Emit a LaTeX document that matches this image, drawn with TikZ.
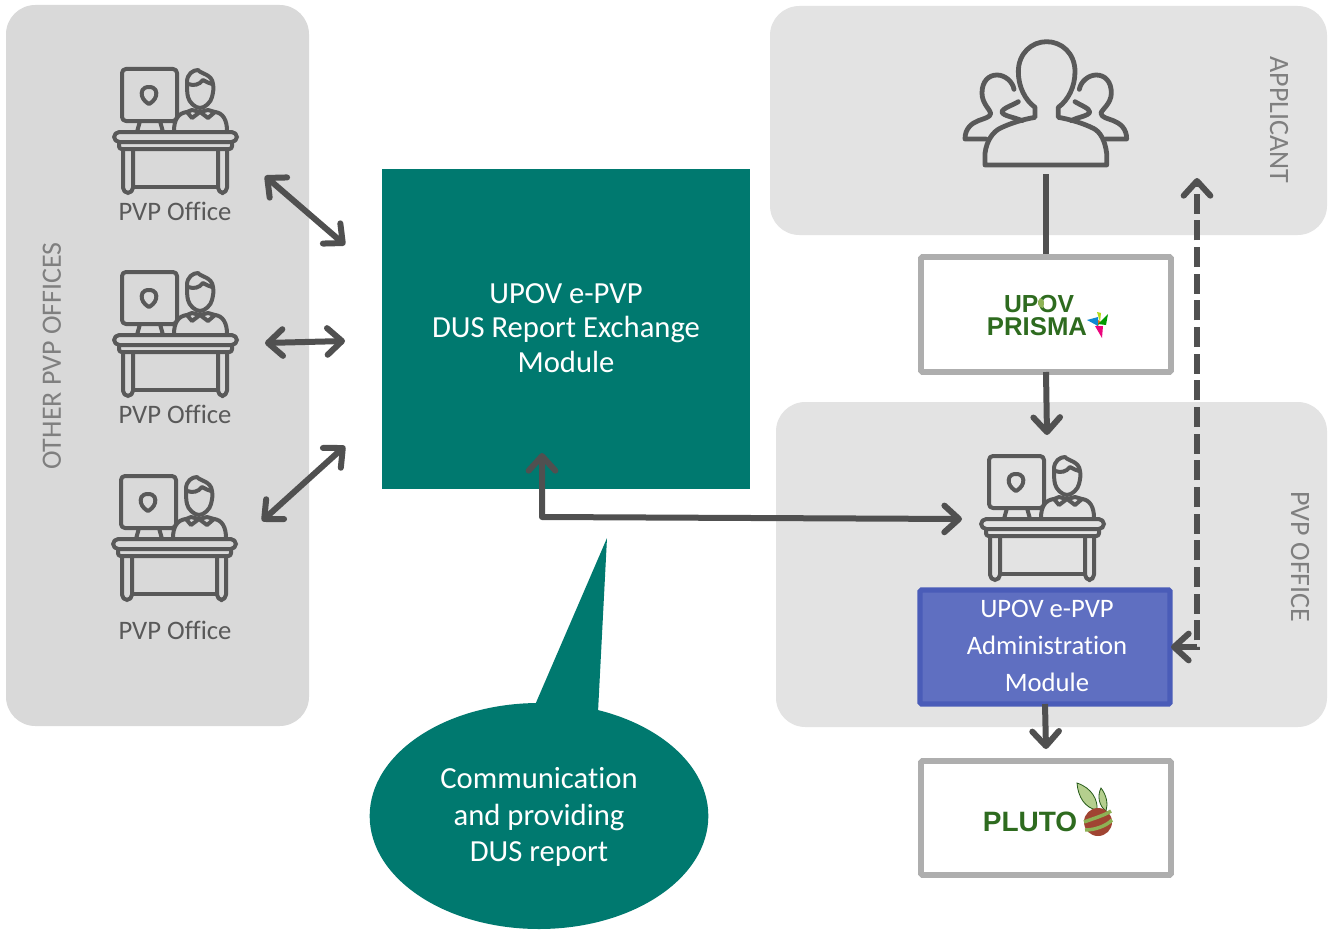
\documentclass[tikz,border=0pt]{standalone}
\usepackage{fontspec}
\setmainfont[Ligatures=NoCommon]{Carlito}
\newfontfamily\logofont{Liberation Sans}
\usetikzlibrary{arrows.meta,shapes.geometric,calc}
\definecolor{iconc}{HTML}{595959}
\definecolor{arrowc}{HTML}{505050}
\definecolor{panelA}{HTML}{D9D9D9}
\definecolor{panelB}{HTML}{E3E3E3}
\definecolor{teal}{HTML}{00796F}
\definecolor{framec}{HTML}{AEAEAE}
\definecolor{adminf}{HTML}{5F6FC1}
\definecolor{admind}{HTML}{4A5CB8}
\definecolor{logog}{HTML}{2E6B1F}
\definecolor{labelc}{HTML}{7F7F7F}
\definecolor{fruitc}{HTML}{A04432}
\definecolor{bandc}{HTML}{8DB255}
\definecolor{leafc}{HTML}{B5CF8E}
\newcommand\rectnode[7][]{%
  \pgfmathsetmacro\rw{(#5-#3)*0.75}\pgfmathsetmacro\rh{(#6-#4)*0.75}%
  \node[#2,minimum width=\rw pt,minimum height=\rh pt,#1] (#7) at ({(#3+#5)/2},{(#4+#6)/2})}
\tikzset{
  panel/.style={rounded corners=22pt,inner sep=0pt,outer sep=0pt},
  framebox/.style={draw=framec,line width=4.3pt,fill=white,rounded corners=1pt,inner sep=0pt,outer sep=0pt},
  adminbox/.style={draw=admind,line width=3.8pt,fill=adminf,rounded corners=1pt,inner sep=0pt,outer sep=0pt,text=white,align=center},
  tealbox/.style={fill=teal,inner sep=0pt,outer sep=0pt,text=white,align=center},
  conn/.style={draw=arrowc,line width=4.5pt},
  tip/.style={-{Straight Barb[length=11pt,width=20pt,line width=4.5pt,round]}},
  tips/.style={{Straight Barb[length=11pt,width=20pt,line width=4.5pt,round]}-{Straight Barb[length=11pt,width=20pt,line width=4.5pt,round]}},
  iconl/.style={draw=iconc,line width=3pt,line join=round,line cap=round},
  office/.pic={
    \draw[iconl,rounded corners=3pt] (32,19) rectangle (87,71);
    \draw[iconl] (59,37) .. controls (52,37) and (51,42) .. (52,46) .. controls (53,50) and (57,53) .. (59,54)
       .. controls (61,53) and (65,50) .. (66,46) .. controls (67,42) and (66,37) .. (59,37) -- cycle;
    \draw[iconl] (50,71) -- (47,82) (70,71) -- (73,82);
    \draw[iconl,rounded corners=4pt] (24,82) rectangle (147,92);
    \draw[iconl,rounded corners=2pt] (29,92) -- (29,99) -- (142,99) -- (142,92);
    \draw[iconl,rounded corners=4pt] (33,99) -- (33,143) -- (43,143) -- (43,99);
    \draw[iconl,rounded corners=4pt] (128,99) -- (128,143) -- (137,143) -- (137,99);
    \draw[iconl] (43,137) -- (128,137);
    % person
    \draw[iconl] (97,32) .. controls (97,24) and (103,20) .. (108,20) .. controls (111,24) and (122,24) .. (123,34)
       .. controls (124,38) and (123,43) .. (122,47) .. controls (121,52) and (115,58) .. (110,58)
       .. controls (105,58) and (99,52) .. (98,47) .. controls (97,43) and (97,38) .. (97,32) -- cycle;
    \draw[iconl] (98,34) .. controls (104,36) and (109,35) .. (113,30) .. controls (116,32) and (119,33) .. (122,34);
    \draw[iconl] (84,81) .. controls (84,70) and (88,63) .. (97,62) (125,62) .. controls (133,63) and (137,70) .. (137,81);
    \draw[iconl] (97,62) -- (102,60) -- (110,62) -- (118,60) -- (125,62);
    \draw[iconl] (97,62) -- (102,68) -- (110,62) -- (118,68) -- (125,62);
  }
}
\begin{document}
\begin{tikzpicture}[x=0.75pt,y=-0.75pt]
\useasboundingbox (0,0) rectangle (1331,931);
\fill[white] (0,0) rectangle (1331,931);
% panels
\rectnode{panel,fill=panelA}{6}{5}{309}{726}{others} {};
\rectnode{panel,fill=panelB}{770}{6}{1327}{235}{applicant} {};
\rectnode{panel,fill=panelB}{776}{402}{1327}{727}{pvpoffice} {};
\node[rotate=90,text=labelc,font=\fontsize{21}{24}\selectfont] (lblothers) at (52,356) {OTHER PVP OFFICES};
\node[rotate=-90,text=labelc,font=\fontsize{21}{24}\selectfont] (lblapp) at (1279,120) {APPLICANT};
\node[rotate=-90,text=labelc,font=\fontsize{21}{24}\selectfont] (lblpvp) at (1300,557) {PVP OFFICE};
% office icons
\pic at (90,50) {office};
\pic at (90,253) {office};
\pic at (89,457) {office};
\pic at (957,437) {office};
\tikzset{oflabel/.style={text=iconc,font=\fontsize{20}{24}\selectfont}}
\node[oflabel] (of1) at (175,211) {PVP Office};
\node[oflabel] (of2) at (175,414) {PVP Office};
\node[oflabel] (of3) at (175,630) {PVP Office};
% applicant icon
\begin{scope}[shift={(950,30)},x=0.25pt,y=-0.25pt]
  \draw[iconl,line width=3.6pt] (105,405) -- (470,405) -- (470,370) .. controls (465,330) and (450,305) .. (430,295)
     .. controls (400,280) and (360,268) .. (325,262) -- (325,232)
     .. controls (355,210) and (375,170) .. (375,125) .. controls (375,70) and (335,35) .. (290,35)
     .. controls (245,35) and (205,70) .. (205,125) .. controls (205,170) and (225,210) .. (255,232) -- (255,262)
     .. controls (220,268) and (180,280) .. (150,295) .. controls (130,305) and (110,330) .. (105,370) -- cycle;
  % left figure
  \draw[iconl,line width=3.6pt] (108,327) -- (45,327) .. controls (45,295) and (65,280) .. (85,272)
     .. controls (100,266) and (122,262) .. (122,250) .. controls (122,240) and (96,222) .. (96,189)
     .. controls (96,155) and (115,135) .. (141,135) .. controls (165,135) and (188,155) .. (192,178);
  \draw[iconl,line width=3.6pt] (205,215) .. controls (190,225) and (156,235) .. (156,246) .. controls (158,258) and (195,262) .. (216,272);
  % right figure
  \draw[iconl,line width=3.6pt] (467,327) -- (530,327) .. controls (530,295) and (510,280) .. (490,272)
     .. controls (475,266) and (453,262) .. (453,250) .. controls (453,240) and (484,222) .. (484,189)
     .. controls (484,155) and (465,135) .. (439,135) .. controls (415,135) and (392,155) .. (388,178);
  \draw[iconl,line width=3.6pt] (375,215) .. controls (390,225) and (419,235) .. (419,246) .. controls (417,258) and (380,262) .. (364,272);
\end{scope}
\coordinate (appfoot) at (1046,174);
\rectnode{tealbox}{382}{169}{750}{489}{module} {};
\node[text=white,align=center,font=\fontsize{23}{26}\selectfont] (modtext) at (566,328) {UPOV e-PVP\\DUS Report Exchange\\Module};
\coordinate (prismatop) at (1046,258);
\draw[conn] (appfoot) -- (prismatop);
% framed logos
\rectnode{framebox}{921}{257}{1171}{372}{prisma} {};
\node[text=logog,align=center,inner sep=0pt,font=\logofont\bfseries\fontsize{18.5}{17}\selectfont] (upovt) at (1039,304) {UPOV};
\node[text=logog,inner sep=0pt,font=\logofont\bfseries\fontsize{19.3}{17}\selectfont] (prismat) at (1037,327) {PRISMA};
\fill[bandc] (1040,298) .. controls (1044,299) and (1045,303) .. (1043,308) .. controls (1038,308) and (1036,302) .. (1040,298) -- cycle;
\fill[orange!85!red] (1095,318) -- (1101,322) -- (1097,327) -- cycle;
\fill[cyan!70!blue] (1087,320) -- (1098,317) -- (1098,326) -- cycle;
\fill[green!60!black] (1098,324) -- (1108,314) -- (1106,325) -- cycle;
\fill[magenta!85!red] (1095,326) -- (1103,326) -- (1102,338) -- cycle;
\fill[yellow!70!green] (1097,312) -- (1101,313) -- (1100,322) -- cycle;
\rectnode{framebox}{921}{761}{1171}{875}{pluto} {};
\node[text=logog,inner sep=0pt,font=\logofont\bfseries\fontsize{21}{24}\selectfont] (plutot) at (1030,822) {PLUTO};
\draw[logog!85!black,fill=leafc,line width=.6pt] (1077,783) .. controls (1092,788) and (1098,800) .. (1097,810) .. controls (1085,808) and (1078,797) .. (1077,783) -- cycle;
\draw[logog!85!black,fill=leafc,line width=.6pt] (1101,788) .. controls (1107,796) and (1108,804) .. (1106,811) .. controls (1099,806) and (1097,796) .. (1101,788) -- cycle;
\fill[fruitc] (1098,822) circle[radius=10.5pt];
\draw[bandc,line width=2.6pt] (1084,822) .. controls (1095,818) and (1105,815) .. (1111,811);
\draw[bandc,line width=2.6pt] (1085,830) .. controls (1095,830) and (1106,826) .. (1112,820);
\rectnode{adminbox}{920}{590}{1170}{704}{admin} {};
\node[text=white,align=center,font=\fontsize{20}{27.7}\selectfont] (admintext) at (1047,646) {UPOV e-PVP\\Administration\\Module};
% callout
\fill[teal] (535,705) -- (607,538) -- (598,712) -- cycle;
\node[ellipse,fill=teal,inner sep=0pt,outer sep=0pt,minimum width=254pt,minimum height=169.5pt] (bubble) at (539,816) {};
\node[text=white,align=center,font=\fontsize{23}{27.5}\selectfont] (bubtext) at (539,817) {Communication\\and providing\\DUS report};
% connectors
\coordinate (a1l) at (265,176); \coordinate (a1r) at (345,245);
\coordinate (a2l) at (265,343); \coordinate (a2r) at (345,341);
\coordinate (a3l) at (262,521); \coordinate (a3r) at (345,446);
\draw[conn,tips] (a1l) -- (a1r);
\draw[conn,tips] (a2l) -- (a2r);
\draw[conn,tips] (a3l) -- (a3r);
\coordinate (modin) at (542,453); \coordinate (bend) at (542,517); \coordinate (deskin) at (962,519);
\draw[conn,tips,line join=round] (modin) -- (bend) -- (deskin);
\coordinate (deskin2) at (1047,435);
\draw[conn,tip] (prisma.south) -- (deskin2);
\coordinate (plutoin) at (1046,749);
\draw[conn,tip] (admin.south) -- (plutoin);
\coordinate (adminin) at (1171,647); \coordinate (dbend) at (1197,647); \coordinate (dtop) at (1197,178);
\draw[conn,tips,line width=5pt,dash pattern=on 15pt off 5pt] (adminin) -- (dbend) -- (dtop);
\end{tikzpicture}
\end{document}
